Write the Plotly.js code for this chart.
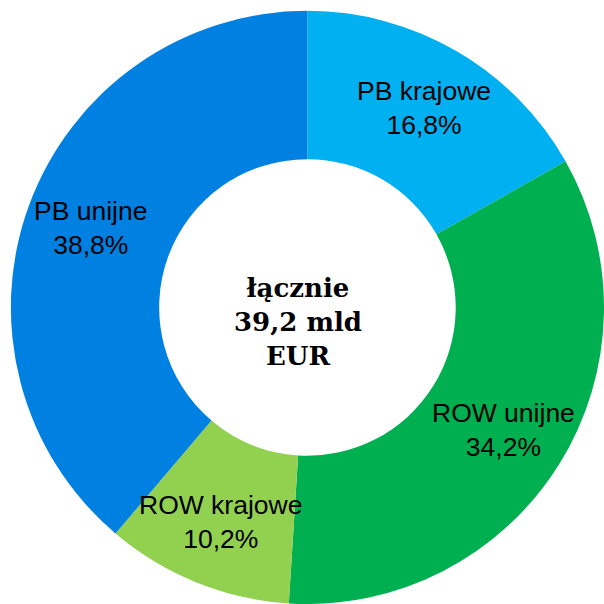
<!DOCTYPE html>
<html>
<head>
<meta charset="utf-8">
<script src="https://cdn.plot.ly/plotly-3.0.1.min.js"></script>
<style>html,body{margin:0;padding:0;background:#fff}#chart{width:604px;height:604px}</style>
</head>
<body>
<div id="chart"></div>
<script>
const labels = ['PB krajowe', 'ROW unijne', 'ROW krajowe', 'PB unijne'];
const shares = [16.8, 34.2, 10.2, 38.8];
const shareLabels = ['16,8%', '34,2%', '10,2%', '38,8%'];
const colors = ['#00B0F0', '#00B050', '#92D050', '#0080E0'];
const centerText = 'łącznie<br>39,2 mld<br>EUR';

const W = 604, H = 604;
const dom = {x: [0.018, 1], y: [0, 0.982]};

const trace = {
  type: 'pie',
  labels: labels,
  values: shares,
  sort: false,
  direction: 'clockwise',
  rotation: 0,
  hole: 0.5,
  marker: {colors: colors, line: {width: 0}},
  textinfo: 'none',
  domain: dom,
  showlegend: false,
  hoverinfo: 'label+percent'
};

// label positions derived from the data: mid-angle of each slice, fixed radius in the ring
const cx = (dom.x[0] + dom.x[1]) / 2;
const cy = (dom.y[0] + dom.y[1]) / 2;
const outerR = Math.min((dom.x[1] - dom.x[0]) * W, (dom.y[1] - dom.y[0]) * H) / 2;
const labelR = outerR * 0.78;
const total = shares.reduce((a, b) => a + b, 0);
let cum = 0;
const annotations = labels.map((lab, i) => {
  const mid = (cum + shares[i] / 2) / total * 2 * Math.PI;
  cum += shares[i];
  return {
    text: lab + '<br>' + shareLabels[i],
    x: cx + labelR * Math.sin(mid) / W,
    y: cy + labelR * Math.cos(mid) / H,
    xref: 'paper', yref: 'paper', xanchor: 'center', yanchor: 'middle',
    showarrow: false,
    font: {family: 'Liberation Sans, Arial, sans-serif', size: 26.5, color: '#000'}
  };
});
annotations.push({
  text: centerText,
  x: 0.493, y: 0.467, xref: 'paper', yref: 'paper',
  xanchor: 'center', yanchor: 'middle',
  showarrow: false,
  font: {family: 'DejaVu Serif, serif', size: 26, color: '#000', weight: 'bold'}
});

const layout = {
  width: W, height: H,
  margin: {l: 0, r: 0, t: 0, b: 0},
  paper_bgcolor: '#fff',
  showlegend: false,
  annotations: annotations
};

Plotly.newPlot('chart', [trace], layout, {displayModeBar: false, staticPlot: true});
</script>
</body>
</html>
